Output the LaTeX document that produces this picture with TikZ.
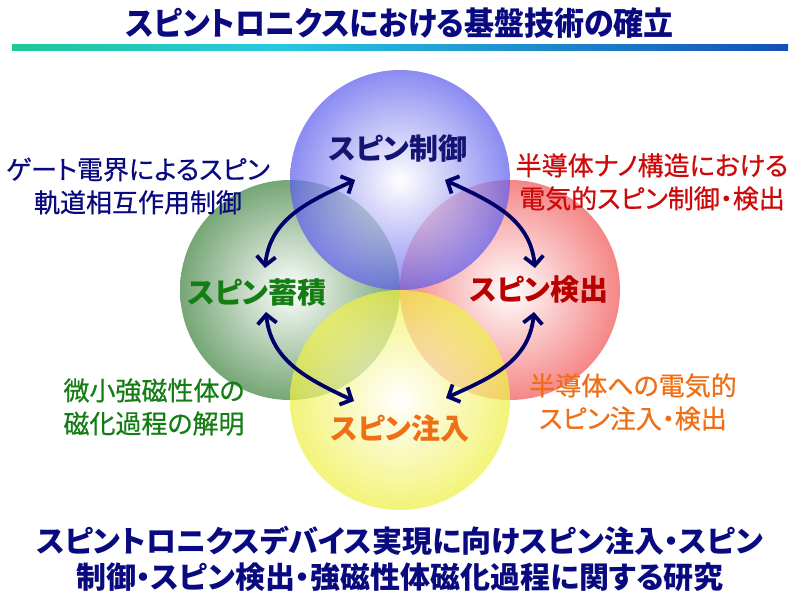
\documentclass[tikz,border=0pt]{standalone}
\usepackage{fontspec}
\newfontfamily\jp{Noto Sans CJK JP}[RawFeature=+palt]
\newfontfamily\jpside{Noto Sans CJK JP}[RawFeature=+palt, FakeBold=0.6]
\usetikzlibrary{arrows.meta}
\definecolor{navy}{RGB}{10,10,128}
\definecolor{arrnavy}{RGB}{0,0,105}
\definecolor{lnavy}{RGB}{20,20,115}
\definecolor{lgreen}{RGB}{20,125,20}
\definecolor{lred}{RGB}{185,0,0}
\definecolor{sred}{RGB}{205,10,10}
\definecolor{lorange}{RGB}{240,110,20}
\definecolor{cblue}{RGB}{95,95,238}
\definecolor{cgreen}{RGB}{65,132,65}
\definecolor{cred}{RGB}{242,88,88}
\definecolor{cyellow}{RGB}{240,240,70}
\definecolor{gl1}{RGB}{30,200,150}
\definecolor{gl2}{RGB}{40,200,225}
\definecolor{gl3}{RGB}{20,80,185}
\pgfdeclarehorizontalshading{gline}{100bp}{color(0bp)=(gl1); color(25bp)=(gl1); color(42bp)=(gl2); color(75bp)=(gl3); color(100bp)=(gl3)}
\begin{document}
\begin{tikzpicture}[x=1pt,y=-1pt,
  circ/.style={fill opacity=0.72, inner color=white},
  arr/.style={draw=arrnavy, line width=3.8pt,
    {Straight Barb[length=9pt,width=19pt]}-{Straight Barb[length=9pt,width=19pt]}},
  lab/.style={font=\jp\bfseries\fontsize{29}{33}\selectfont, inner sep=0pt},
  side/.style={font=\jpside\fontsize{26}{33}\selectfont, align=center, inner sep=0pt},
  big/.style={font=\jp\bfseries\fontsize{30}{36}\selectfont, align=center, inner sep=0pt, text=navy}]
\useasboundingbox[fill=white] (0,0) rectangle (800,597);
% title
\node[font=\jp\bfseries\fontsize{30}{34}\selectfont, text=navy, inner sep=0pt, yscale=1.08] (title) at (400,23) {スピントロニクスにおける基盤技術の確立};
\shade[shading=gline] (12,44.5) rectangle (788,50);
% circles
\shade[circ, outer color=cgreen] (290,290) circle[radius=110];
\shade[circ, outer color=cred] (510,290) circle[radius=110];
\shade[circ, outer color=cblue] (400,180) circle[radius=110];
\shade[circ, outer color=cyellow] (400,400) circle[radius=110];
% labels
\node[lab, text=lnavy] (ctrl) at (398,148) {スピン制御};
\node[lab, text=lgreen] (acc) at (257,293) {スピン蓄積};
\node[lab, text=lred] (det) at (539,290) {スピン検出};
\node[lab, text=lorange] (inj) at (400,428) {スピン注入};
% side texts
\node[side, text=navy] (s1) at (138,186) {ゲート電界によるスピン\\軌道相互作用制御};
\node[side, text=sred] (s2) at (652,182) {半導体ナノ構造における\\電気的スピン制御・検出};
\node[side, text=lgreen] (s3) at (154,407) {微小強磁性体の\\磁化過程の解明};
\node[side, text=lorange] (s4) at (633,402) {半導体への電気的\\スピン注入・検出};
% arrow ends
\coordinate (a1s) at (355,180);
\coordinate (a1e) at (265,268);
\coordinate (a2s) at (445,180);
\coordinate (a2e) at (535,268);
\coordinate (a3s) at (266,312);
\coordinate (a3e) at (354,401);
\coordinate (a4s) at (534,312);
\coordinate (a4e) at (446,398);
\draw[arr] (a1s) .. controls (310,201) and (270,218) .. (a1e);
\draw[arr] (a2s) .. controls (490,201) and (530,218) .. (a2e);
\draw[arr] (a3s) .. controls (271,362) and (310,380) .. (a3e);
\draw[arr] (a4s) .. controls (529,362) and (490,378) .. (a4e);
% bottom
\node[big] (bottom) at (400,559) {スピントロニクスデバイス実現に向けスピン注入・スピン\\制御・スピン検出・強磁性体磁化過程に関する研究};
\end{tikzpicture}
\end{document}
